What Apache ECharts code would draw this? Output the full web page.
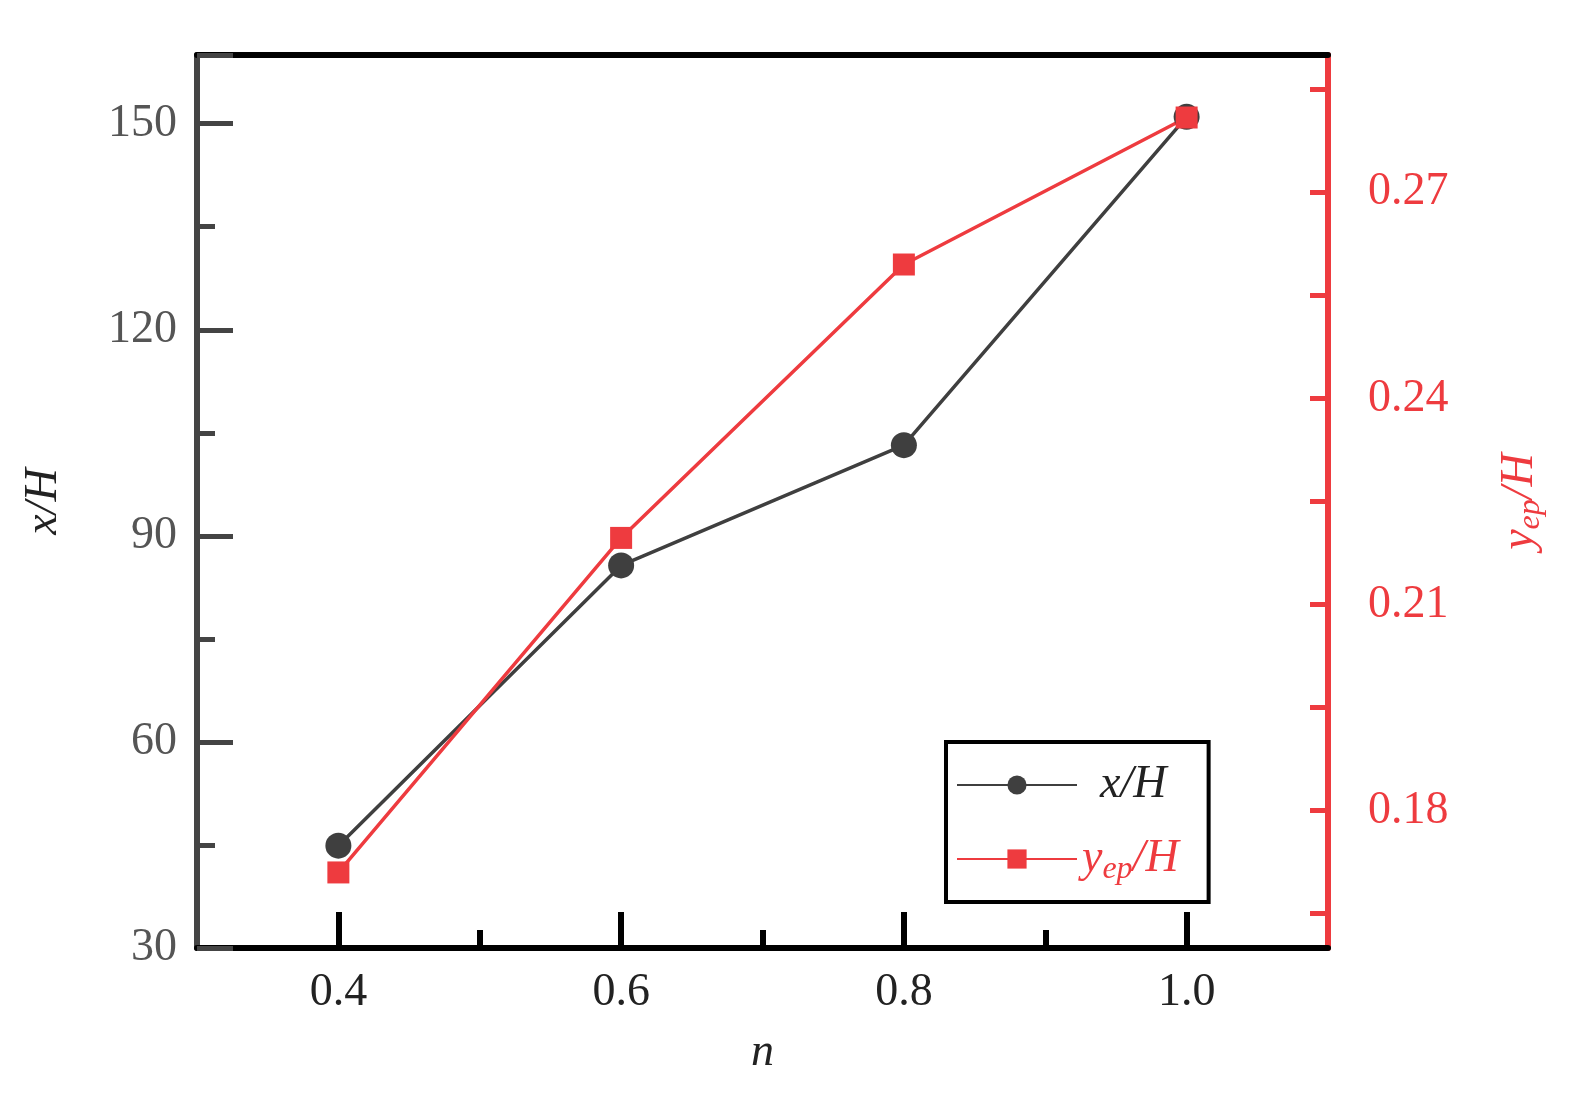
<!DOCTYPE html>
<html><head><meta charset="utf-8">
<script src="https://cdn.jsdelivr.net/npm/echarts@6/dist/echarts.min.js"></script>
<style>html,body{margin:0;padding:0;background:#fff}#c{width:1571px;height:1099px}</style>
</head><body><div id="c"></div>
<script>
const nValues = [0.4, 0.6, 0.8, 1.0];
const xH = [44.9, 85.7, 103.2, 151];
const yepH = [0.171, 0.2197, 0.2595, 0.2809];
const xTickLabels = [0.4, 0.6, 0.8, 1.0];
const leftTickLabels = [30, 60, 90, 120, 150];
const rightTickLabels = [0.18, 0.21, 0.24, 0.27];
const rightTicks = [0.165, 0.18, 0.195, 0.21, 0.225, 0.24, 0.255, 0.27, 0.285];

const F = 'Liberation Serif';
const GRAY = '#3f3f3f', RED = '#ee3b3f';
const chart = echarts.init(document.getElementById('c'));
const rich = {
  i: {fontFamily: F, fontStyle: 'italic', fontSize: 46},
  s: {fontFamily: F, fontStyle: 'italic', fontSize: 32, verticalAlign: 'bottom', padding: [22, 0, 0, 0]}
};
chart.setOption({
  animation: false,
  grid: {left: 197, right: 243, top: 55, bottom: 151},
  xAxis: [{
    type: 'value', min: 0.3, max: 1.1, position: 'bottom',
    name: 'n', nameLocation: 'middle', nameGap: 82,
    nameTextStyle: {fontFamily: F, fontStyle: 'italic', fontSize: 46, color: '#222'},
    axisLine: {lineStyle: {color: '#000', width: 6}},
    axisTick: {inside: true, length: 36, lineStyle: {width: 6, color: '#000'}, customValues: xTickLabels},
    axisLabel: {customValues: xTickLabels, formatter: v => v.toFixed(1), fontFamily: F, fontSize: 46, color: '#222', margin: 22},
    splitLine: {show: false}
  }, {
    type: 'value', min: 0.3, max: 1.1, position: 'bottom',
    axisLine: {show: false},
    axisTick: {inside: true, length: 18, lineStyle: {width: 6, color: '#000'}, customValues: [0.5, 0.7, 0.9]},
    axisLabel: {show: false}, splitLine: {show: false}
  }, {
    type: 'value', min: 0.3, max: 1.1, position: 'top',
    axisLine: {lineStyle: {color: '#000', width: 6}},
    axisTick: {show: false}, axisLabel: {show: false}, splitLine: {show: false}
  }],
  yAxis: [{
    type: 'value', min: 30, max: 160, interval: 30, position: 'left',
    name: '{i|x/H}', nameLocation: 'middle', nameGap: 130, nameRotate: 90,
    nameTextStyle: {color: '#222', rich},
    axisLine: {lineStyle: {color: '#444', width: 6}},
    axisTick: {inside: true, length: 36, lineStyle: {width: 5, color: '#444'}},
    minorTick: {show: true, splitNumber: 2, length: 18, lineStyle: {width: 5, color: '#444'}},
    axisLabel: {customValues: leftTickLabels, fontFamily: F, fontSize: 46, color: '#555', margin: 20},
    splitLine: {show: false}
  }, {
    type: 'value', min: 0.16, max: 0.29, position: 'right',
    name: '{i|y}{s|ep}{i|/H}', nameLocation: 'middle', nameGap: 165, nameRotate: 90,
    nameTextStyle: {color: RED, rich: {i: Object.assign({}, rich.i, {color: RED}), s: Object.assign({}, rich.s, {color: RED})}},
    axisLine: {lineStyle: {color: RED, width: 6}},
    axisTick: {inside: true, length: 18, lineStyle: {width: 5, color: RED}, customValues: rightTicks},
    axisLabel: {customValues: rightTickLabels, formatter: v => v.toFixed(2), fontFamily: F, fontSize: 46, color: RED, margin: 40},
    splitLine: {show: false}
  }],
  legend: {
    left: 946, top: 742, orient: 'vertical', itemGap: 28, padding: [20, 30, 16, 10],
    borderColor: '#000', borderWidth: 4, itemWidth: 120, itemHeight: 24,
    textStyle: {fontFamily: F, fontSize: 46, rich: {
      i: {fontFamily: F, fontStyle: 'italic', fontSize: 46, color: '#222', padding: [0, 0, 0, 18]},
      r: {fontFamily: F, fontStyle: 'italic', fontSize: 46, color: RED},
      rs: {fontFamily: F, fontStyle: 'italic', fontSize: 32, color: RED, verticalAlign: 'bottom', padding: [22, 0, 0, 0]}
    }},
    formatter: n => n === 'x/H' ? '{i|x/H}' : '{r|y}{rs|ep}{r|/H}',
    data: ['x/H', 'yep/H']
  },
  series: [{
    name: 'x/H', type: 'line', xAxisIndex: 0, yAxisIndex: 0,
    data: nValues.map((n, i) => [n, xH[i]]),
    symbol: 'circle', symbolSize: 26,
    lineStyle: {color: GRAY, width: 3.5}, itemStyle: {color: GRAY}
  }, {
    name: 'yep/H', type: 'line', xAxisIndex: 0, yAxisIndex: 1,
    data: nValues.map((n, i) => [n, yepH[i]]),
    symbol: 'rect', symbolSize: 22,
    lineStyle: {color: RED, width: 3.5}, itemStyle: {color: RED}
  }]
});
</script></body></html>
